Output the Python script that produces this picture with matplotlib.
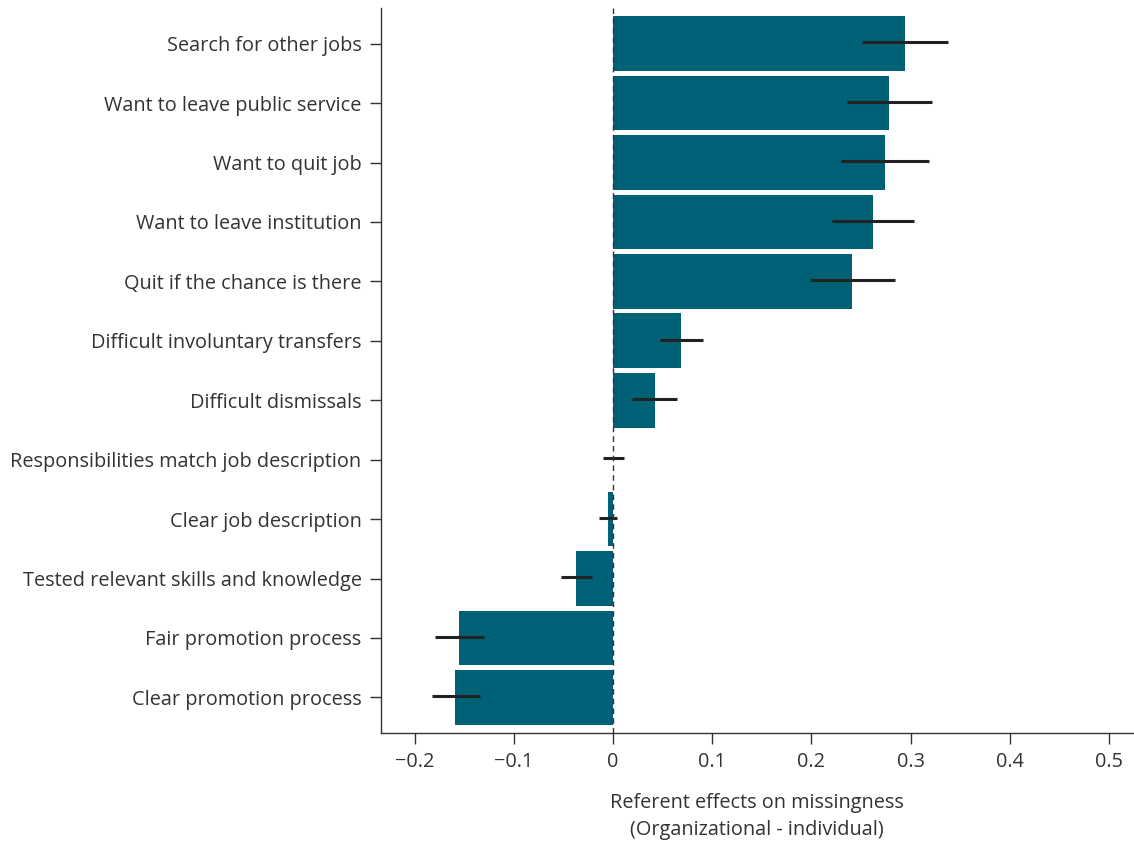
import matplotlib
matplotlib.use("Agg")
import matplotlib.pyplot as plt
import numpy as np

categories = [
    "Search for other jobs",
    "Want to leave public service",
    "Want to quit job",
    "Want to leave institution",
    "Quit if the chance is there",
    "Difficult involuntary transfers",
    "Difficult dismissals",
    "Responsibilities match job description",
    "Clear job description",
    "Tested relevant skills and knowledge",
    "Fair promotion process",
    "Clear promotion process",
]
effects = [0.294, 0.278, 0.274, 0.262, 0.241, 0.068, 0.042, 0.000, -0.005, -0.037, -0.155, -0.159]
ci_low = [0.251, 0.236, 0.230, 0.221, 0.198, 0.047, 0.019, -0.010, -0.014, -0.053, -0.180, -0.183]
ci_high = [0.338, 0.321, 0.318, 0.303, 0.284, 0.091, 0.064, 0.011, 0.004, -0.021, -0.130, -0.134]
xticks = [-0.2, -0.1, 0, 0.1, 0.2, 0.3, 0.4, 0.5]
xticklabels = ["\u22120.2", "\u22120.1", "0", "0.1", "0.2", "0.3", "0.4", "0.5"]

plt.rcParams['font.family'] = ['Open Sans', 'DejaVu Sans']
text_color = "#333333"
fs = 14.3

fig = plt.figure(figsize=(11.34, 8.41), dpi=100)
ax = fig.add_axes([0.336, 0.1284, 0.663, 0.8621])

y = np.arange(len(categories))
eff = np.array(effects)
lo = np.array(ci_low)
hi = np.array(ci_high)

ax.barh(y, eff, height=0.92, color="#006076", zorder=2)
ax.hlines(y - 0.02, lo, hi, color="#222222", linewidth=2.2, zorder=3)
ax.axvline(0, color="#333333", linestyle=(0, (4, 3)), linewidth=1.0, zorder=4)

ax.set_ylim(len(categories) - 0.4, -0.6)
ax.set_xlim(-0.234, 0.524)
ax.set_yticks(y)
ax.set_yticklabels(categories, fontsize=fs, color=text_color)
ax.set_xticks(xticks)
ax.set_xticklabels(xticklabels, fontsize=fs, color=text_color)
ax.tick_params(axis='y', direction='out', length=8, width=1, color="#333333", pad=6)
ax.tick_params(axis='x', direction='out', length=8, width=1, color="#333333", pad=6)

for s in ['top', 'right']:
    ax.spines[s].set_visible(False)
for s in ['left', 'bottom']:
    ax.spines[s].set_color("#333333")
    ax.spines[s].set_linewidth(1)

ax.set_xlabel("Referent effects on missingness\n(Organizational - individual)",
              fontsize=fs, color=text_color, labelpad=15, linespacing=1.45)

fig.savefig("out.png", dpi=100)
